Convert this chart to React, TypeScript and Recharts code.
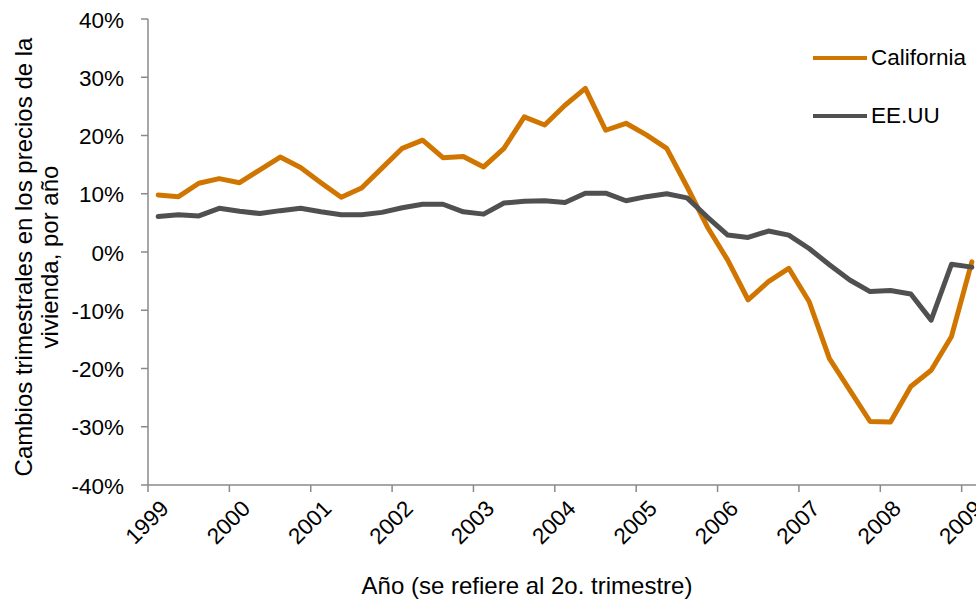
import React from 'react'
import { LineChart, Line, XAxis, YAxis, Legend } from 'recharts'

// quarterly series, 1999 Q2 .. 2009 Q2 (41 quarters)
const years = ['1999', '2000', '2001', '2002', '2003', '2004', '2005', '2006', '2007', '2008', '2009']

const california = [
  9.8, 9.5, 11.8, 12.6, 11.9, 14.1, 16.3, 14.5, 11.9, 9.4, 11.0, 14.4, 17.8, 19.2, 16.2, 16.4, 14.6,
  17.8, 23.2, 21.8, 25.2, 28.1, 20.9, 22.1, 20.1, 17.8, 11.2, 4.3, -1.4, -8.2, -5.1, -2.8, -8.5, -18.3,
  -23.7, -29.1, -29.2, -23.1, -20.3, -14.5, -1.7,
]

const usa = [
  6.1, 6.4, 6.2, 7.5, 7.0, 6.6, 7.1, 7.5, 6.9, 6.4, 6.4, 6.8, 7.6, 8.2, 8.2, 6.9, 6.5, 8.4, 8.7, 8.8,
  8.5, 10.1, 10.1, 8.8, 9.5, 10.0, 9.3, 6.0, 2.9, 2.5, 3.6, 2.9, 0.6, -2.2, -4.8, -6.8, -6.6, -7.2,
  -11.7, -2.1, -2.6,
]

const yTicks = [-40, -30, -20, -10, 0, 10, 20, 30, 40]

const data = california.map((v, i) => ({ idx: i, california: v, usa: usa[i] }))
const labelTicks = years.map((_, k) => k * 4)

const FONT = '"Liberation Sans", Arial, sans-serif'
const AXIS = '#8a8a8a'
const ORANGE = '#d07600'
const GREY = '#505050'

const W = 990
const H = 602
const LEFT = 148
const RIGHT = 8
const HALF = (W - LEFT - RIGHT) / data.length / 2

function XTick({ x, y, payload }: any) {
  const year = years[payload.value / 4]
  const tx = x + 12
  const ty = y + 25
  return (
    <g>
      <line x1={x - HALF} y1={y} x2={x - HALF} y2={y + 7} stroke={AXIS} strokeWidth={1.5} />
      <text
        x={tx}
        y={ty}
        transform={`rotate(-45, ${tx}, ${ty})`}
        textAnchor="end"
        fontFamily={FONT}
        fontSize={22.5}
        fill="#000"
      >
        {year}
      </text>
    </g>
  )
}

function YTick({ x, y, payload }: any) {
  return (
    <text x={x} y={y + 8.5} textAnchor="end" fontFamily={FONT} fontSize={22.5} fill="#000">
      {`${payload.value}%`}
    </text>
  )
}

function YTitle() {
  return (
    <g fontFamily={FONT} fontSize={24} fill="#000">
      <text x={23} y={257} transform="rotate(-90, 23, 257)" textAnchor="middle" dominantBaseline="central">
        Cambios trimestrales en los precios de la
      </text>
      <text x={49} y={257} transform="rotate(-90, 49, 257)" textAnchor="middle" dominantBaseline="central">
        vivienda, por año
      </text>
    </g>
  )
}

function XTitle() {
  return (
    <text x={527} y={594} textAnchor="middle" fontFamily={FONT} fontSize={24} fill="#000">
      Año (se refiere al 2o. trimestre)
    </text>
  )
}

function LegendBox() {
  const rows = [
    { name: 'California', color: ORANGE },
    { name: 'EE.UU', color: GREY },
  ]
  return (
    <div style={{ fontFamily: FONT, fontSize: 22.5, color: '#000' }}>
      {rows.map((r) => (
        <div key={r.name} style={{ display: 'flex', alignItems: 'center', height: 58 }}>
          <svg width={56} height={10} style={{ marginRight: 3 }}>
            <line x1={1} y1={5} x2={55} y2={5} stroke={r.color} strokeWidth={4} />
          </svg>
          <span>{r.name}</span>
        </div>
      ))}
    </div>
  )
}

export default function App() {
  return (
    <div
      style={{
        position: 'absolute',
        left: 0,
        top: 0,
        width: 976,
        height: 602,
        overflow: 'hidden',
        background: '#fff',
      }}
    >
      <LineChart width={W} height={H} data={data} margin={{ top: 19, right: RIGHT, bottom: 0, left: 0 }}>
        <XAxis
          dataKey="idx"
          type="number"
          domain={[-0.5, data.length - 0.5]}
          ticks={labelTicks}
          interval={0}
          tick={<XTick />}
          tickLine={false}
          tickSize={0}
          tickMargin={0}
          axisLine={{ stroke: AXIS, strokeWidth: 1.5 }}
          height={H - 19 - 466}
          label={<XTitle />}
        />
        <YAxis
          type="number"
          domain={[-40, 40]}
          ticks={yTicks}
          interval={0}
          width={LEFT}
          tick={<YTick />}
          tickSize={7}
          tickMargin={17}
          tickLine={{ stroke: AXIS, strokeWidth: 1.5 }}
          axisLine={{ stroke: AXIS, strokeWidth: 1.5 }}
          label={<YTitle />}
        />
        <Legend
          layout="horizontal"
          verticalAlign="middle"
          align="center"
          wrapperStyle={{ position: 'absolute', left: 812, top: 29, width: 'auto' }}
          content={<LegendBox />}
        />
        <Line
          type="linear"
          dataKey="california"
          stroke={ORANGE}
          strokeWidth={5}
          strokeLinejoin="round"
          strokeLinecap="round"
          dot={false}
          isAnimationActive={false}
        />
        <Line
          type="linear"
          dataKey="usa"
          stroke={GREY}
          strokeWidth={5}
          strokeLinejoin="round"
          strokeLinecap="round"
          dot={false}
          isAnimationActive={false}
        />
      </LineChart>
    </div>
  )
}
